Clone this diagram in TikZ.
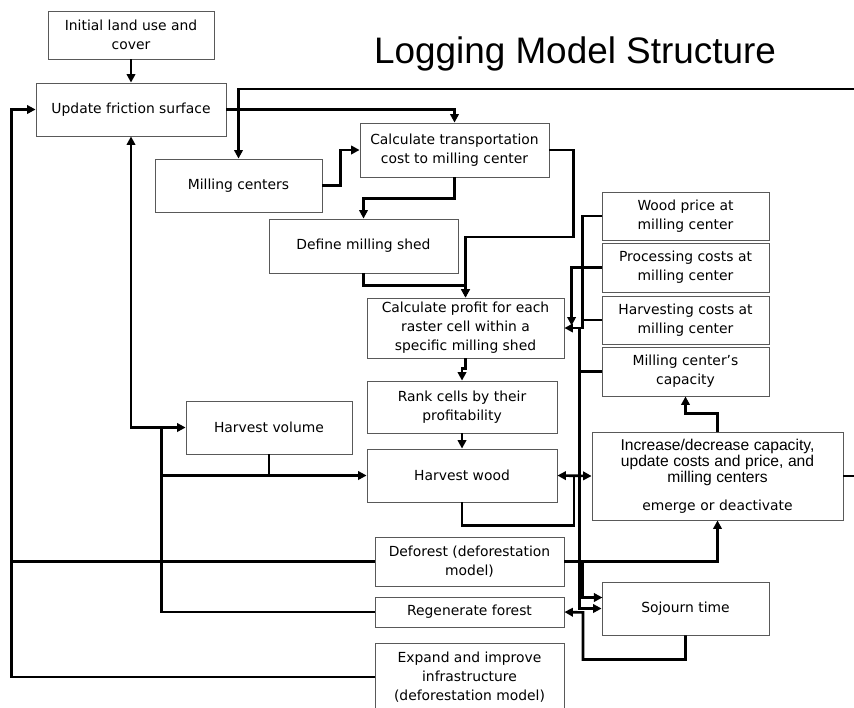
\documentclass[tikz,border=0pt]{standalone}
\usepackage{fontspec}
\setmainfont{DejaVu Sans}
\newfontfamily\arialfont{Liberation Sans}
\usetikzlibrary{arrows.meta}

\begin{document}
\begin{tikzpicture}[x=0.02cm,y=-0.02cm,
    box/.style={rectangle,draw=black!65,line width=0.5pt,align=center,inner sep=1pt,font=\fontsize{7.9}{10.8}\selectfont},
    wire/.style={line width=1.5pt},
    flow/.style={wire,-{Triangle[length=4.8pt,width=4.8pt]}},
    twoway/.style={wire,{Triangle[length=4.8pt,width=4.8pt]}-{Triangle[length=4.8pt,width=4.8pt]}}]
    \useasboundingbox (0,0) rectangle (854,707);
    \node[font=\arialfont\fontsize{21}{25}\selectfont,anchor=base] at (575,63) (title) {Logging Model Structure};
    \node[box,minimum width=3.32cm,minimum height=0.96cm] at (131,35) (init) {Initial land use and\\cover};
    \node[box,minimum width=3.8cm,minimum height=1.06cm] at (131,109.5) (update) {Update friction surface};
    \node[box,minimum width=3.34cm,minimum height=1.06cm] at (238.5,185.5) (mill) {Milling centers};
    \node[box,minimum width=3.78cm,minimum height=1.08cm] at (454.5,150) (transp) {Calculate transportation\\cost to milling center};
    \node[box,minimum width=3.78cm,minimum height=1.08cm] at (363.5,246) (shed) {Define milling shed};
    \node[box,minimum width=3.94cm,minimum height=1.2cm] at (465.5,328) (profit) {Calculate profit for each\\raster cell within a\\specific milling shed};
    \node[box,minimum width=3.8cm,minimum height=1.04cm] at (462,407) (rank) {Rank cells by their\\profitability};
    \node[box,minimum width=3.8cm,minimum height=1.06cm] at (462,475.5) (hwood) {Harvest wood};
    \node[box,minimum width=3.32cm,minimum height=1.06cm] at (269,427.5) (hvol) {Harvest volume};
    \node[box,minimum width=3.34cm,minimum height=0.96cm] at (685.5,216) (price) {Wood price at\\milling center};
    \node[box,minimum width=3.34cm,minimum height=0.98cm] at (685.5,267.5) (proc) {Processing costs at\\milling center};
    \node[box,minimum width=3.34cm,minimum height=0.96cm] at (685.5,320) (hcost) {Harvesting costs at\\milling center};
    \node[box,minimum width=3.34cm,minimum height=0.98cm] at (685.5,371.5) (cap) {Milling center’s\\capacity};
    \node[box,minimum width=5.02cm,minimum height=1.76cm,text width=4.9cm] at (717.5,476) (incr) {{\arialfont\fontsize{8.9}{8.2}\selectfont Increase/decrease capacity,\\update costs and price, and\\milling centers\par}\vspace{5pt}emerge or deactivate};
    \node[box,minimum width=3.34cm,minimum height=1.06cm] at (685.5,608.5) (soj) {Sojourn time};
    \node[box,minimum width=3.78cm,minimum height=0.98cm] at (469.5,561.5) (defor) {Deforest (deforestation\\model)};
    \node[box,minimum width=3.78cm,minimum height=0.6cm] at (469.5,612) (regen) {Regenerate forest};
    \node[box,minimum width=3.78cm,minimum height=1.36cm] at (469.5,677) (expand) {Expand and improve\\infrastructure\\(deforestation model)};
    \coordinate (rimlow) at (862,476);
    \coordinate (rimtop) at (862,89);

    \draw[flow] (init) -- (update);
    \draw[flow] (update.east) -| (transp.north);
    \draw[flow] (incr.east) -- (rimlow) -- (rimtop) -| (mill.north);
    \draw[flow] (mill.east) -- ++(18,0) |- (transp.west);
    \draw[flow] (transp.south) -- ++(0,21) -| (shed.north);
    \draw[flow] (transp.east) -| ++(24,87) -| (profit.north);
    \draw[flow] (shed.south) -- ++(0,12) -| (profit.north);
    \draw[flow] (profit.south) -- ++(0,10) -| (rank.north);
    \draw[flow] (rank) -- (hwood);
    \draw[twoway] (hwood.east) -- (incr.west);
    \draw[wire] (hwood.south) -- ++(0,23) -| ++(112,-49);
    \draw[flow] (price.west) -| ++(-19,112) -- (profit.east);
    \draw[wire] (hcost.west) -- ++(-19,0);
    \draw[flow] (proc.west) -| ++(-30,58);
    \draw[flow] (profit.east) ++(15,0) |- (soj.west);
    \draw[wire] (cap.west) -- ++(-23,0);
    \draw[flow] (incr.north) -- ++(0,-18) -| (cap.south);
    \draw[flow] (defor.east) -| (incr.south);
    \draw[flow] (defor.east) ++(18,0) |- ++(20,36);
    \draw[flow] (soj.south) -- ++(0,24) -| ++(-102.5,-47) -- (regen.east);
    \draw[flow] (expand.west) -- ++(-363,0) |- (update.west);
    \draw[wire] (defor.west) -- ++(-363,0);
    \draw[flow] (regen.west) -- ++(-213,0) |- (hvol.west);
    \draw[flow] (hvol.west) ++(-24,0) -| (update.south);
    \draw[flow] (regen.west) ++(-213,0) |- (hwood.west);
    \draw[wire] (hvol.south) -- (hvol.south |- hwood.west);
\end{tikzpicture}
\end{document}
